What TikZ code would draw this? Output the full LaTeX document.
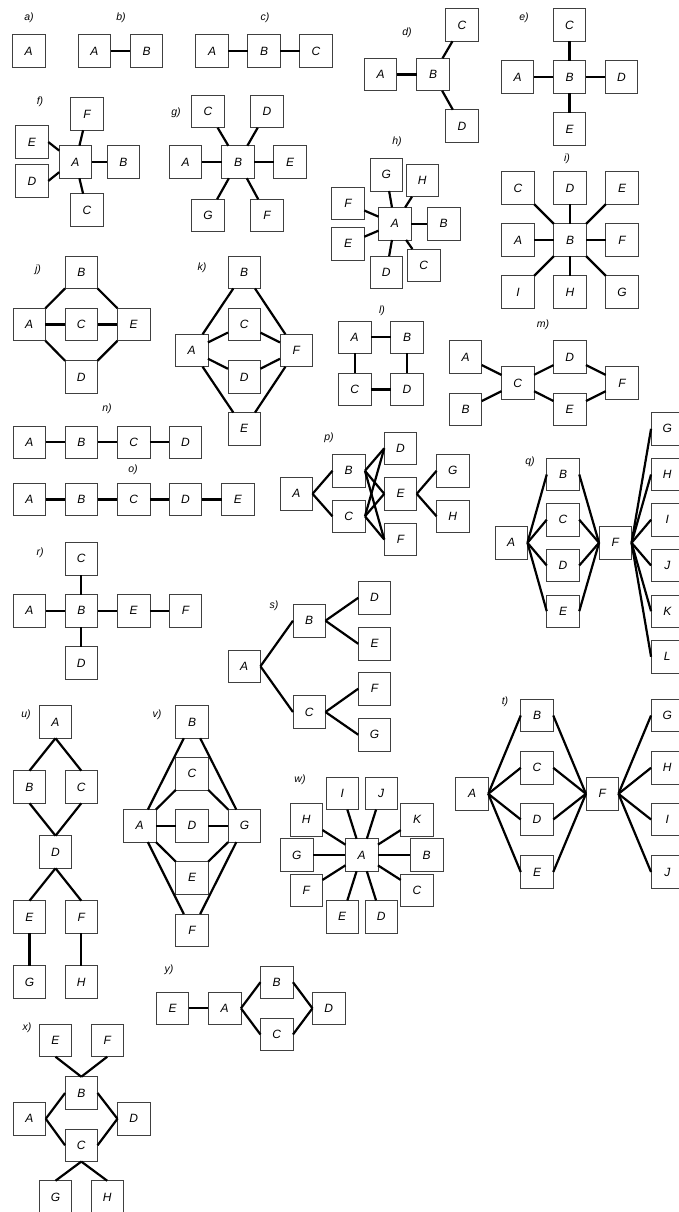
\documentclass[tikz,border=0pt]{standalone}
\usepackage{fontspec}
\setmainfont{Liberation Sans}
\tikzset{
  bx/.style={draw=black!75, line width=0.9pt, minimum size=32.5pt, inner sep=0pt, outer sep=0pt, fill=white,
    font=\fontsize{12}{12}\selectfont\itshape},
  ln/.style={line width=2.2pt},
  lbl/.style={font=\fontsize{10.5}{10.5}\selectfont\itshape, inner sep=0pt}
}
\newcommand{\mybox}[4]{\node[bx] (#1#2) at (#3,#4) {#2};}
\newcommand{\mylbl}[4]{\node[lbl] (l#1) at (#2,#3) {#4};}
\begin{document}
\begin{tikzpicture}[x=1pt,y=-1pt]
\useasboundingbox[fill=white] (0,0) rectangle (679,1212);
% a
\mylbl{a}{29}{18}{a)}
\mybox{a}{A}{28.7}{51}
% b
\mylbl{b}{121}{18}{b)}
\mybox{b}{A}{94.5}{51}\mybox{b}{B}{146.5}{51}
\draw[ln] (bA) -- (bB);
% c
\mylbl{c}{265}{18}{c)}
\mybox{c}{A}{212}{51}\mybox{c}{B}{264}{51}\mybox{c}{C}{316}{51}
\draw[ln] (cA) -- (cB); \draw[ln] (cB) -- (cC);
% d
\mylbl{d}{407}{33}{d)}
\mybox{d}{C}{462}{25}\mybox{d}{A}{380.5}{74.5}\mybox{d}{B}{433}{74.5}\mybox{d}{D}{462}{126}
\draw[ln] (dA) -- (dB); \draw[ln] (dB) -- (dC); \draw[ln] (dB) -- (dD);
% e
\mylbl{e}{524}{18}{e)}
\mybox{e}{C}{569.5}{25}\mybox{e}{A}{517.5}{77}\mybox{e}{B}{569.5}{77}\mybox{e}{D}{621.5}{77}\mybox{e}{E}{569.5}{129}
\foreach \t in {A,C,D,E} \draw[ln] (eB) -- (e\t);
% f
\mylbl{f}{40}{102}{f)}
\mybox{f}{F}{87}{114}\mybox{f}{E}{32}{142}\mybox{f}{A}{75.5}{162}\mybox{f}{B}{123.5}{162}\mybox{f}{D}{32}{181}\mybox{f}{C}{87}{210}
\draw[ln] (fA) -- (fF); \draw[ln] (fA) -- (fB); \draw[ln] (fA) -- (fC);
\draw[ln] (fA.145) -- (fE.east); \draw[ln] (fA.212) -- (fD.east);
% g
\mylbl{g}{176}{113}{g)}
\mybox{g}{C}{208}{111.5}\mybox{g}{D}{267}{111.5}\mybox{g}{A}{185.5}{162}\mybox{g}{B}{238}{162}\mybox{g}{E}{290}{162}\mybox{g}{G}{208}{215.5}\mybox{g}{F}{267}{215.5}
\foreach \t in {A,C,D,E,F,G} \draw[ln] (gB) -- (g\t);
% h
\mylbl{h}{397}{142}{h)}
\mybox{h}{G}{386.3}{174.7}\mybox{h}{H}{422.3}{180.5}\mybox{h}{F}{348}{203.5}\mybox{h}{A}{394.8}{223.7}\mybox{h}{B}{443.7}{223.7}\mybox{h}{E}{348}{243.7}\mybox{h}{D}{386.3}{272.3}\mybox{h}{C}{423.7}{265.3}
\foreach \t in {B,C,D,E,F,G,H} \draw[ln] (hA) -- (h\t);
% i
\mylbl{i}{567}{159}{i)}
\mybox{i}{C}{518}{188}\mybox{i}{D}{570}{188}\mybox{i}{E}{622}{188}
\mybox{i}{A}{518}{240}\mybox{i}{B}{570}{240}\mybox{i}{F}{622}{240}
\mybox{i}{I}{518}{292}\mybox{i}{H}{570}{292}\mybox{i}{G}{622}{292}
\foreach \t in {A,C,D,E,F,G,H,I} \draw[ln] (iB) -- (i\t);
% j
\mylbl{j}{38}{270}{j)}
\mybox{j}{B}{81.3}{272.2}\mybox{j}{A}{29.2}{324.5}\mybox{j}{C}{81.3}{324.5}\mybox{j}{E}{133.7}{324.5}\mybox{j}{D}{81.3}{377}
\draw[ln] (jB.south west) -- (jA.north east); \draw[ln] (jB.south east) -- (jE.north west);
\draw[ln] (jA.south east) -- (jD.north west); \draw[ln] (jE.south west) -- (jD.north east);
\draw[ln] (jA) -- (jC); \draw[ln] (jC) -- (jE);
% k
\mylbl{k}{202}{268}{k)}
\mybox{k}{B}{244.2}{272.2}\mybox{k}{C}{244.2}{324.5}\mybox{k}{A}{191.7}{350.5}\mybox{k}{F}{296.2}{350.5}\mybox{k}{D}{244.2}{377}\mybox{k}{E}{244.2}{428.8}
\foreach \t in {B,C,D,E} {\draw[ln] (kA) -- (k\t); \draw[ln] (kF) -- (k\t);}
% l
\mylbl{l}{382}{311}{l)}
\mybox{l}{A}{354.7}{337.2}\mybox{l}{B}{407}{337.2}\mybox{l}{C}{354.7}{389.5}\mybox{l}{D}{407}{389.5}
\draw[ln] (lA) -- (lB); \draw[ln] (lA) -- (lC); \draw[ln] (lB) -- (lD); \draw[ln] (lC) -- (lD);
% m
\mylbl{m}{543}{325}{m)}
\mybox{m}{A}{465.5}{357}\mybox{m}{B}{465.5}{409.2}\mybox{m}{C}{517.8}{383}\mybox{m}{D}{569.7}{357}\mybox{m}{E}{569.7}{409.2}\mybox{m}{F}{622}{383}
\draw[ln] (mA) -- (mC); \draw[ln] (mB) -- (mC); \draw[ln] (mC) -- (mD); \draw[ln] (mC) -- (mE);
\draw[ln] (mD) -- (mF); \draw[ln] (mE) -- (mF);
% n
\mylbl{n}{107}{409}{n)}
\mybox{n}{A}{29.5}{442.2}\mybox{n}{B}{81.3}{442.2}\mybox{n}{C}{133.7}{442.2}\mybox{n}{D}{185.5}{442.2}
\draw[ln] (nA) -- (nB); \draw[ln] (nB) -- (nC); \draw[ln] (nC) -- (nD);
% o
\mylbl{o}{133}{470}{o)}
\mybox{o}{A}{29.5}{499.5}\mybox{o}{B}{81.3}{499.5}\mybox{o}{C}{133.7}{499.5}\mybox{o}{D}{185.5}{499.5}\mybox{o}{E}{237.8}{499.5}
\draw[ln] (oA) -- (oB); \draw[ln] (oB) -- (oC); \draw[ln] (oC) -- (oD); \draw[ln] (oD) -- (oE);
% p
\mylbl{p}{329}{438}{p)}
\mybox{p}{A}{296.3}{493.8}\mybox{p}{B}{348.7}{470.8}\mybox{p}{C}{348.7}{516.3}\mybox{p}{D}{400.5}{448.3}\mybox{p}{E}{400.5}{493.8}\mybox{p}{F}{400.5}{539.5}\mybox{p}{G}{452.8}{470.8}\mybox{p}{H}{452.8}{516.3}
\draw[ln] (pA.east) -- (pB.west); \draw[ln] (pA.east) -- (pC.west);
\foreach \t in {D,E,F} {\draw[ln] (pB.east) -- (p\t.west); \draw[ln] (pC.east) -- (p\t.west);}
\draw[ln] (pE.east) -- (pG.west); \draw[ln] (pE.east) -- (pH.west);
% q
\mylbl{q}{530}{462}{q)}
\mybox{q}{A}{511.2}{542.8}\mybox{q}{B}{563}{474.5}\mybox{q}{C}{563}{519.7}\mybox{q}{D}{563}{565.5}\mybox{q}{E}{563}{611.2}\mybox{q}{F}{615.3}{542.8}
\mybox{q}{G}{667.3}{428.8}\mybox{q}{H}{667.3}{474.5}\mybox{q}{I}{667.3}{519.7}\mybox{q}{J}{667.3}{565.5}\mybox{q}{K}{667.3}{611.2}\mybox{q}{L}{667.3}{656.7}
\foreach \t in {B,C,D,E} {\draw[ln] (qA.east) -- (q\t.west); \draw[ln] (q\t.east) -- (qF.west);}
\foreach \t in {G,H,I,J,K,L} \draw[ln] (qF.east) -- (q\t.west);
% r
\mylbl{r}{40}{553}{r)}
\mybox{r}{C}{81.3}{558.7}\mybox{r}{A}{29.5}{610.8}\mybox{r}{B}{81.3}{610.8}\mybox{r}{E}{133.7}{610.8}\mybox{r}{F}{185.5}{610.8}\mybox{r}{D}{81.3}{663}
\draw[ln] (rB) -- (rC); \draw[ln] (rB) -- (rD); \draw[ln] (rA) -- (rB); \draw[ln] (rB) -- (rE); \draw[ln] (rE) -- (rF);
% s
\mylbl{s}{274}{606}{s)}
\mybox{s}{B}{309.2}{620.7}\mybox{s}{A}{244.2}{666.3}\mybox{s}{C}{309.2}{712}\mybox{s}{D}{374.5}{597.8}\mybox{s}{E}{374.5}{643.8}\mybox{s}{F}{374.5}{688.7}\mybox{s}{G}{374.5}{734.7}
\draw[ln] (sA.east) -- (sB.west); \draw[ln] (sA.east) -- (sC.west);
\draw[ln] (sB.east) -- (sD.west); \draw[ln] (sB.east) -- (sE.west);
\draw[ln] (sC.east) -- (sF.west); \draw[ln] (sC.east) -- (sG.west);
% t
\mylbl{t}{505}{702}{t)}
\mybox{t}{B}{537}{715.5}\mybox{t}{C}{537}{767.8}\mybox{t}{D}{537}{819.5}\mybox{t}{E}{537}{872}\mybox{t}{A}{472}{793.8}\mybox{t}{F}{602.2}{793.8}
\mybox{t}{G}{667.3}{715.5}\mybox{t}{H}{667.3}{767.8}\mybox{t}{I}{667.3}{819.5}\mybox{t}{J}{667.3}{872}
\foreach \t in {B,C,D,E} {\draw[ln] (tA.east) -- (t\t.west); \draw[ln] (t\t.east) -- (tF.west);}
\foreach \t in {G,H,I,J} \draw[ln] (tF.east) -- (t\t.west);
% u
\mylbl{u}{26}{715}{u)}
\mybox{u}{A}{55.5}{722}\mybox{u}{B}{29.5}{787}\mybox{u}{C}{81.3}{787}\mybox{u}{D}{55.5}{852}\mybox{u}{E}{29.5}{917}\mybox{u}{F}{81.3}{917}\mybox{u}{G}{29.5}{982}\mybox{u}{H}{81.3}{982}
\draw[ln] (uA.south) -- (uB.north); \draw[ln] (uA.south) -- (uC.north);
\draw[ln] (uB.south) -- (uD.north); \draw[ln] (uC.south) -- (uD.north);
\draw[ln] (uD.south) -- (uE.north); \draw[ln] (uD.south) -- (uF.north);
\draw[ln] (uE) -- (uG); \draw[ln] (uF) -- (uH);
% v
\mylbl{v}{157}{715}{v)}
\mybox{v}{B}{192}{722}\mybox{v}{C}{192}{773.7}\mybox{v}{A}{139.7}{825.8}\mybox{v}{D}{192}{825.8}\mybox{v}{G}{244.5}{825.8}\mybox{v}{E}{192}{877.8}\mybox{v}{F}{192}{930.3}
\draw[ln] (vA) -- (vB); \draw[ln] (vG) -- (vB); \draw[ln] (vA) -- (vF); \draw[ln] (vG) -- (vF);
\draw[ln] (vA.north east) -- (vC.south west); \draw[ln] (vC.south east) -- (vG.north west);
\draw[ln] (vA.south east) -- (vE.north west); \draw[ln] (vE.north east) -- (vG.south west);
\draw[ln] (vA) -- (vD); \draw[ln] (vD) -- (vG);
% w
\mylbl{w}{300}{780}{w)}
\mybox{w}{I}{342.2}{793.3}\mybox{w}{J}{381.2}{793.3}\mybox{w}{H}{306.2}{819.7}\mybox{w}{K}{417}{819.7}
\mybox{w}{G}{296.7}{855}\mybox{w}{A}{361.7}{855}\mybox{w}{B}{426.7}{855}
\mybox{w}{F}{306.2}{890.3}\mybox{w}{C}{417}{890.3}\mybox{w}{E}{342.2}{916.7}\mybox{w}{D}{381.2}{916.7}
\foreach \t in {B,C,D,E,F,G,H,I,J,K} \draw[ln] (wA) -- (w\t);
% x
\mylbl{x}{27}{1028}{x)}
\mybox{x}{E}{55.5}{1040.5}\mybox{x}{F}{107.2}{1040.5}\mybox{x}{B}{81.3}{1093}\mybox{x}{A}{29.5}{1118.8}\mybox{x}{D}{133.7}{1118.8}\mybox{x}{C}{81.3}{1145.3}\mybox{x}{G}{55.5}{1197}\mybox{x}{H}{107.2}{1197}
\draw[ln] (xE.south) -- (xB.north); \draw[ln] (xF.south) -- (xB.north);
\draw[ln] (xA.east) -- (xB.west); \draw[ln] (xA.east) -- (xC.west);
\draw[ln] (xB.east) -- (xD.west); \draw[ln] (xC.east) -- (xD.west);
\draw[ln] (xC.south) -- (xG.north); \draw[ln] (xC.south) -- (xH.north);
% y
\mylbl{y}{169}{970}{y)}
\mybox{y}{E}{172.5}{1008.3}\mybox{y}{A}{224.7}{1008.3}\mybox{y}{B}{276.7}{982.2}\mybox{y}{C}{276.7}{1034.5}\mybox{y}{D}{328.7}{1008.3}
\draw[ln] (yE) -- (yA); \draw[ln] (yA.east) -- (yB.west); \draw[ln] (yA.east) -- (yC.west);
\draw[ln] (yB.east) -- (yD.west); \draw[ln] (yC.east) -- (yD.west);
\end{tikzpicture}
\end{document}
